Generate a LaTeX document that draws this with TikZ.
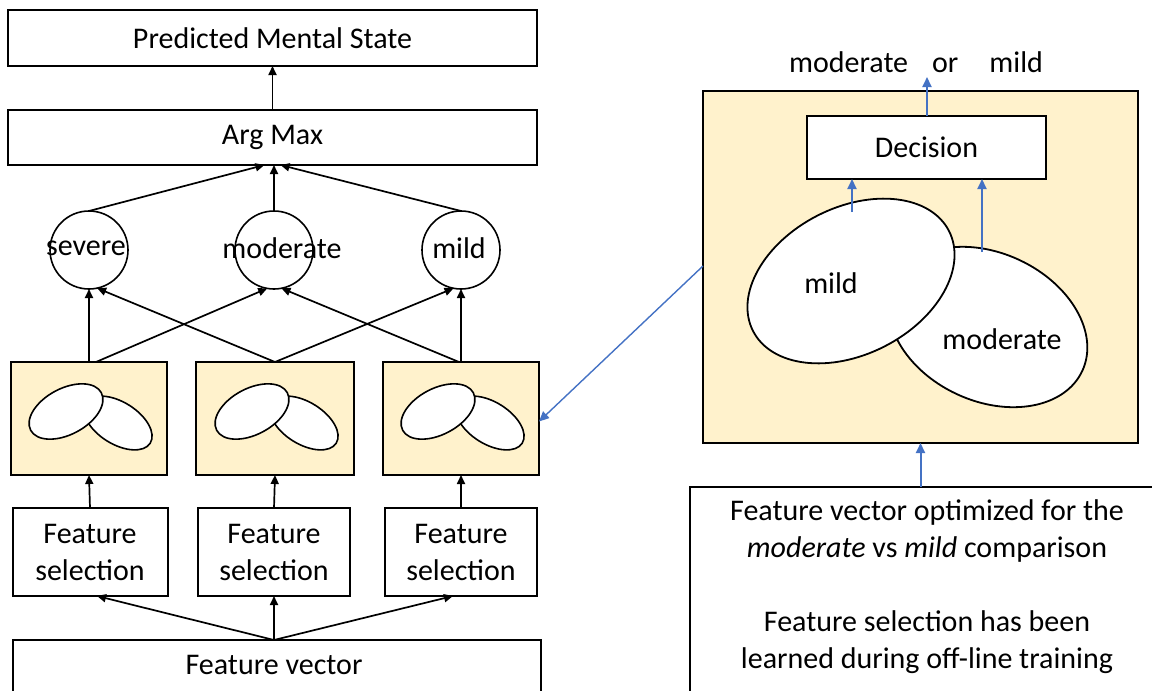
\documentclass[tikz,border=0pt]{standalone}
\usepackage{fontspec}
\setmainfont{Carlito}
\usetikzlibrary{shapes.geometric,arrows.meta,calc}
\definecolor{paleyellow}{HTML}{FFF2CC}
\definecolor{linkblue}{HTML}{4472C4}
\begin{document}
\begin{tikzpicture}[x=1pt,y=-1pt,
  every node/.style={inner sep=0pt, outer sep=0pt},
  txt/.style={font=\fontsize{30}{37}\selectfont, align=center},
  box/.style={draw, line width=2pt, fill=white},
  ybox/.style={draw, line width=2pt, fill=paleyellow},
  cls/.style={circle, draw, line width=1.6pt, minimum size=78pt},
  blob/.style={ellipse, draw, line width=1.6pt, fill=white},
  arr/.style={line width=1.7pt, -{Triangle[length=9pt,width=8pt]}},
  barr/.style={draw=linkblue, line width=2pt, -{Triangle[length=10pt,width=9pt]}},
]
\useasboundingbox (0,0) rectangle (1152,691);

% ---------- left column: one-vs-one classifiers ----------
\node[box, minimum width=529pt, minimum height=56pt] (pred) at (272.5,38) {};
\node[txt] (predtxt) at (pred) {Predicted Mental State};
\node[box, minimum width=529pt, minimum height=55pt] (argmax) at (272.5,137.5) {};
\node[txt] (argtxt) at (argmax) {Arg Max};

\node[cls] (severe) at (89,250) {};
\node[cls] (moderate) at (274,250) {};
\node[cls] (mild) at (461,250) {};
\node[txt] (tsev) at (86,248) {severe};
\node[txt] (tmod) at (282,248) {moderate};
\node[txt] (tmild) at (459,248) {mild};

\node[ybox, minimum width=156pt, minimum height=113pt] (fy1) at (89,418.5) {};
\node[ybox, minimum width=158pt, minimum height=113pt] (fy2) at (275,418.5) {};
\node[ybox, minimum width=156pt, minimum height=113pt] (fy3) at (461,418.5) {};
\foreach \b in {1,2,3} {
  \node[blob, minimum width=76pt, minimum height=42pt, rotate=-32] (s\b b) at ($(fy\b)+(29,4.5)$) {};
  \node[blob, minimum width=80pt, minimum height=46pt, rotate=28] (s\b a) at ($(fy\b)+(-23,-7)$) {};
}

\node[box, minimum width=155pt, minimum height=88pt] (fs1) at (90,552) {};
\node[box, minimum width=152pt, minimum height=88pt] (fs2) at (274,552) {};
\node[box, minimum width=152pt, minimum height=88pt] (fs3) at (461,552) {};
\node[txt] (fst1) at (fs1) {Feature\\selection};
\node[txt] (fst2) at (fs2) {Feature\\selection};
\node[txt] (fst3) at (fs3) {Feature\\selection};

\node[box, minimum width=528pt, minimum height=80pt] (fv) at (277,680) {};
\node[txt] (fvtxt) at (274,665) {Feature vector};

% connectors of the left column
\draw[arr] (argmax.north) -- (pred.south);
\draw[arr] (severe.north) -- ([xshift=-8pt]argmax.south);
\draw[arr] (moderate.north) -- (moderate.north |- argmax.south);
\draw[arr] (mild.north) -- ([xshift=8pt]argmax.south);

\draw[arr] (fy1.north) -- (severe.south);
\draw[arr] ([xshift=7pt]fy1.north) -- (moderate.260);
\draw[arr] (fy2.north) -- (severe.282);
\draw[arr] (fy2.north) -- (mild.259);
\draw[arr] ([xshift=-2pt]fy3.north) -- (moderate.281);
\draw[arr] (fy3.north) -- (mild.south);

\draw[arr] (fs1.north) -- (fy1.south);
\draw[arr] (fs2.north) -- (fy2.south);
\draw[arr] (fs3.north) -- (fy3.south);

\coordinate (fvtop) at (fs2.south |- fv.north);
\draw[arr] (fvtop) -- ([xshift=7pt]fs1.south);
\draw[arr] (fvtop) -- (fs2.south);
\draw[arr] (fvtop) -- ([xshift=-8pt]fs3.south);

% ---------- right column: detail of one classifier ----------
\node[ybox, minimum width=435pt, minimum height=352pt] (big) at (920.5,267) {};
\node[box, minimum width=239pt, minimum height=63pt] (dec) at (926.5,147.5) {};
\node[txt] (dectxt) at (dec) {Decision};
\node[blob, line width=1.8pt, minimum width=208pt, minimum height=148pt, rotate=-25] (bigmod) at (988,327) {};
\node[blob, line width=1.8pt, minimum width=220pt, minimum height=147pt, rotate=27] (bigmild) at (851,281) {};
\node[txt] (tbigmild) at (831,283) {mild};
\node[txt] (tbigmod) at (1002,339) {moderate};

\node[txt] (result) at (916,62) {moderate\hspace{24pt}or\hspace{31pt}mild};
\coordinate (resulttip) at (927,77);
\draw[barr] (dec.north -| resulttip) -- (resulttip);

\coordinate (mildtop) at (852,212);
\coordinate (modtop) at (982,252);
\draw[barr] (mildtop) -- (mildtop |- dec.south);
\draw[barr] (modtop) -- (modtop |- dec.south);

\node[draw, line width=2pt, fill=white, minimum width=480pt, minimum height=223pt] (opt) at (930,598.5) {};
\node[txt] (opttxt) at (927,587) {Feature vector optimized for the\\
  \textit{moderate} vs \textit{mild} comparison\\[37pt]
  Feature selection has been\\
  learned during off-line training};
\draw[barr] (opt.north -| big.south) -- (big.south);

\draw[draw=linkblue, line width=1.4pt, -{Triangle[length=10pt,width=9pt]}]
  ([yshift=1pt]big.west) -- ([yshift=-3pt]fy3.east);
\end{tikzpicture}
\end{document}
